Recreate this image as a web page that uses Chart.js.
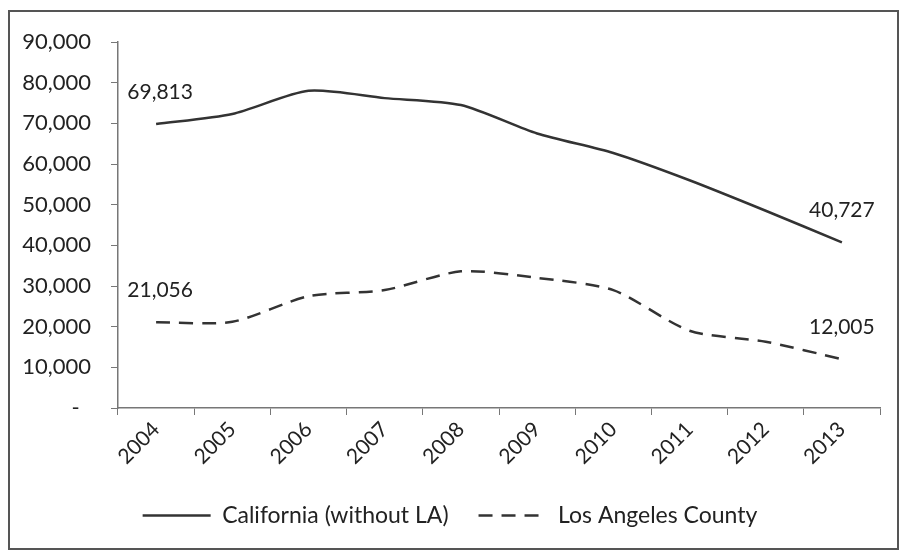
<!DOCTYPE html>
<html>
<head>
<meta charset="utf-8">
<script src="https://cdn.jsdelivr.net/npm/chart.js@4/dist/chart.umd.min.js"></script>
<style>
  html, body { margin: 0; padding: 0; background: #fff; }
  #wrap { position: relative; width: 904px; height: 556px; }
  #frame { position: absolute; left: 8px; top: 10px; width: 887px; height: 536px;
           border: 2px solid #555; pointer-events: none; }
</style>
</head>
<body>
<div id="wrap">
  <canvas id="gangChart" width="904" height="556"></canvas>
  <div id="frame"></div>
</div>
<script>
const years = ['2004', '2005', '2006', '2007', '2008', '2009', '2010', '2011', '2012', '2013'];
const california = [69813, 72300, 78000, 76200, 74500, 67500, 62700, 56000, 48500, 40727];
const losAngeles = [21056, 21200, 27500, 29000, 33600, 32000, 29000, 19000, 16300, 12005];
const seriesNames = ['California (without LA)', 'Los Angeles County'];

const ink = '#333';
const fontFamily = 'Lato, "Open Sans", sans-serif';

// value labels on first and last point of each line
const endLabels = {
  id: 'endLabels',
  afterDatasetsDraw(chart) {
    const ctx = chart.ctx;
    const x = chart.scales.x, y = chart.scales.y;
    ctx.save();
    ctx.fillStyle = '#222';
    ctx.font = '21px ' + fontFamily;
    ctx.textAlign = 'center';
    ctx.textBaseline = 'middle';
    chart.data.datasets.forEach(ds => {
      const last = ds.data.length - 1;
      [0, last].forEach(i => {
        const px = x.getPixelForValue(i);
        const py = y.getPixelForValue(ds.data[i]);
        ctx.fillText(ds.data[i].toLocaleString('en-US'), px + (i === 0 ? 4 : 0), py - 32);
      });
    });
    ctx.restore();
  }
};

const ctx = document.getElementById('gangChart').getContext('2d');
new Chart(ctx, {
  type: 'line',
  data: {
    labels: years,
    datasets: [{
      label: seriesNames[0],
      data: california,
      borderColor: ink,
      backgroundColor: ink,
      borderWidth: 2.5,
      pointRadius: 0,
      tension: 0.25
    }, {
      label: seriesNames[1],
      data: losAngeles,
      borderColor: ink,
      backgroundColor: ink,
      borderWidth: 2.5,
      borderDash: [14, 9],
      pointRadius: 0,
      tension: 0.25
    }]
  },
  options: {
    responsive: false,
    animation: false,
    layout: { padding: { left: 20, right: 24, top: 42, bottom: 19 } },
    plugins: {
      legend: {
        position: 'bottom',
        labels: {
          usePointStyle: true,
          pointStyle: 'line',
          pointStyleWidth: 68,
          boxHeight: 23,
          padding: 30,
          color: '#222',
          font: { family: fontFamily, size: 23 },
          generateLabels(chart) {
            const items = Chart.defaults.plugins.legend.labels.generateLabels(chart);
            items.forEach(item => {
              const ds = chart.data.datasets[item.datasetIndex];
              item.lineWidth = ds.borderWidth;
              item.lineDash = ds.borderDash || [];
            });
            return items;
          }
        }
      },
      tooltip: { enabled: false }
    },
    scales: {
      x: {
        offset: true,
        afterFit(scale) { scale.height = 66; },
        grid: { drawOnChartArea: false, drawTicks: true, tickLength: 7, color: '#777', offset: true },
        border: { display: true, color: '#777', width: 1.5 },
        ticks: {
          color: '#222',
          font: { family: fontFamily, size: 21 },
          maxRotation: 45,
          minRotation: 45,
          padding: 2
        }
      },
      y: {
        min: 0,
        max: 90000,
        afterFit(scale) { scale.width = 98; },
        grid: { drawOnChartArea: false, drawTicks: true, tickLength: 7, color: '#777' },
        border: { display: true, color: '#777', width: 1.5 },
        ticks: {
          stepSize: 10000,
          color: '#222',
          font: { family: fontFamily, size: 22 },
          padding: 20,
          callback: v => v === 0 ? '-  ' : v.toLocaleString('en-US')
        }
      }
    }
  },
  plugins: [endLabels]
});
</script>
</body>
</html>
